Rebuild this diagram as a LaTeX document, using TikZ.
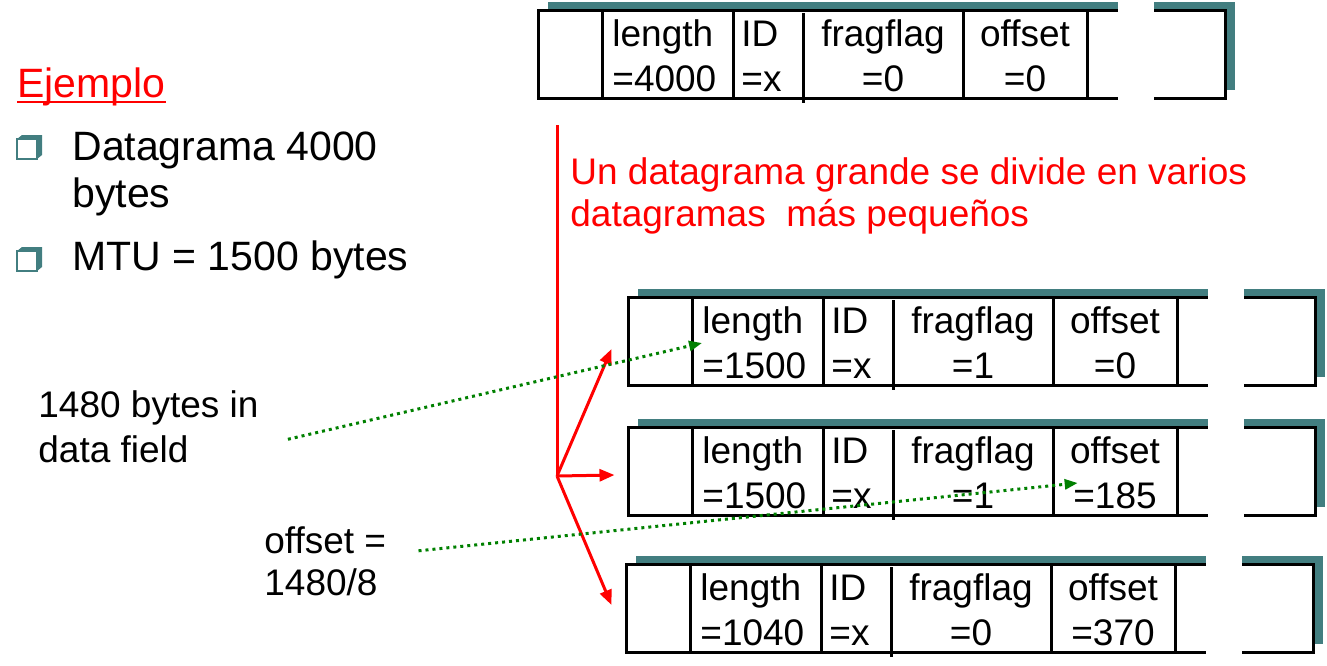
\documentclass[tikz,border=0pt]{standalone}
\usepackage{fontspec}
\setmainfont{Liberation Sans}
\usepackage{tikz}
\definecolor{slideteal}{RGB}{66,126,128}
\definecolor{hintgreen}{RGB}{0,128,0}
\usetikzlibrary{shadows}
\usetikzlibrary{arrows.meta}
\newcommand{\slideul}[1]{\setbox0=\hbox{#1}\rlap{\rule[-3pt]{\wd0}{1.2pt}}\box0}

\begin{document}
\begin{tikzpicture}[x=0.5pt,y=-0.5pt,
    pkbox/.style={draw,line width=1.5pt,fill=white,minimum width=343.5pt,minimum height=44pt,inner sep=0pt,
        drop shadow={shadow xshift=5pt,shadow yshift=4pt,fill=slideteal,opacity=1}},
    cellfont/.style={inner sep=0pt,font=\fontsize{18.5}{22.5}\selectfont},
    note/.style={inner sep=0pt,align=left,font=\fontsize{18.5}{22.5}\selectfont},
    tightnote/.style={note,font=\fontsize{18.5}{21}\selectfont},
    bigtext/.style={inner sep=0pt,align=left,font=\fontsize{20.5}{23.5}\selectfont},
    redarrow/.style={red,line width=1.5pt,-{Triangle[length=7.5pt,width=6pt]}},
    greenarrow/.style={hintgreen,dotted,line width=1.5pt,-{Triangle[length=6.5pt,width=5pt]}}
]
\useasboundingbox (0,0) rectangle (1327,665);

\foreach \n/\px/\py/\len/\flag/\off in {1/538/10/4000/0/0,2/628/297/1500/1/0,3/628/427/1500/1/185,4/626/564/1040/0/370}{
    \node[pkbox] (pk\n) at ({\px+343.5},{\py+44}) {};
    \foreach \dx in {64,195,425,549}
        \draw[line width=1.5pt] ({\px+\dx},\py) -- ++(0,88);
    \draw[line width=1.5pt] ({\px+265},{\py+3}) -- ++(0,90);
    \fill[white] ({\px+580},{\py-9}) rectangle ({\px+616},{\py+90});
    \node[cellfont,anchor=west,align=left] (len\n) at ({\px+74},{\py+46}) {length\\=\len};
    \node[cellfont,anchor=west,align=left] (id\n) at ({\px+203},{\py+46}) {ID\\=x};
    \node[cellfont,align=center] (flag\n) at ({\px+345},{\py+46}) {fragflag\\=\flag};
    \node[cellfont,align=center] (off\n) at ({\px+487},{\py+46}) {offset\\=\off};
}

\node[bigtext,anchor=base west,red] (ejemplo) at (17,97) {\slideul{Ejemplo}};
\foreach \by in {139,251}{
    \fill[slideteal] (17,\by) -- (22,{\by-4}) -- (42,{\by-4}) -- (42,{\by+16}) -- (37,{\by+20}) -- (37,\by) -- cycle;
    \draw[slideteal,line width=0.8pt,fill=white] (17,\by) rectangle (37,{\by+20});
}
\node[bigtext,anchor=base west] (dgram) at (72,207) {Datagrama 4000\\bytes};
\node[bigtext,anchor=base west] (mtu) at (72,270) {MTU = 1500 bytes};
\node[note,anchor=base west] (field) at (38,462) {1480 bytes in\\data field};
\node[tightnote,anchor=base west] (offcalc) at (264,595) {offset =\\1480/8};
\node[tightnote,anchor=base west,red] (divide) at (570,226) {Un datagrama grande se divide en varios\\datagramas\ \ más pequeños};

\coordinate (top) at (557,125);
\coordinate (fork) at (557,476);
\draw[red,line width=1.5pt] (top) -- (fork);
\draw[redarrow] (fork) -- ([xshift=-7.5pt,yshift=-4pt]pk2.west);
\draw[redarrow] (fork) -- ([xshift=-6pt,yshift=-2pt]pk3.west);
\draw[redarrow] (fork) -- ([xshift=-6.5pt,yshift=1.5pt]pk4.west);

\draw[greenarrow] ([xshift=14.5pt,yshift=-6.5pt]field.east) -- (len2.west);
\draw[greenarrow] ([xshift=16pt,yshift=5pt]offcalc.east) -- ([xshift=4pt,yshift=-5pt]off3.west);
\end{tikzpicture}
\end{document}
